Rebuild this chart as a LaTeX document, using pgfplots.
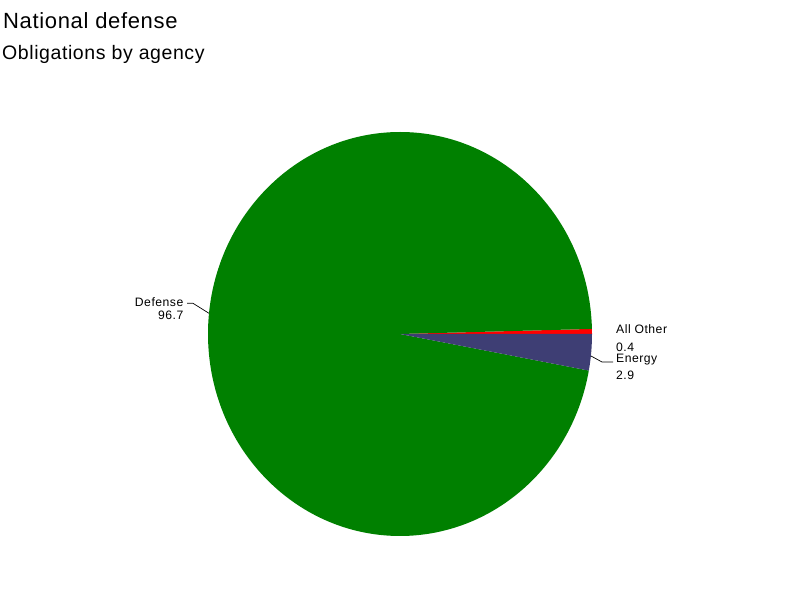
\documentclass[border=0pt]{standalone}
\usepackage{fontspec}
\setmainfont{Liberation Sans}
\newfontfamily\wide[LetterSpace=3]{Liberation Sans}
\newfontfamily\labwide[LetterSpace=4]{Liberation Sans}
\usepackage{pgfplots}
\usepackage{pgfplotstable}
\pgfplotsset{compat=1.18}
\definecolor{defc}{RGB}{0,128,0}
\definecolor{enec}{RGB}{62,62,116}
\definecolor{othc}{RGB}{255,0,0}

% share of obligations, percent; slices run counterclockwise from 0 deg
\pgfplotstableread{
share col
0.4 othc
96.7 defc
2.9 enec
}\piedata

\begin{document}
\begin{tikzpicture}
\begin{axis}[scale only axis, width=800bp, height=600bp,
  xmin=0, xmax=800, ymin=0, ymax=600, hide axis, clip=false]
\path (rel axis cs:0,0) rectangle (rel axis cs:1,1);
\def\acc{0}
\pgfplotsforeachungrouped \i in {0,1,2}{%
  \pgfplotstablegetelem{\i}{share}\of\piedata \let\v\pgfplotsretval
  \pgfplotstablegetelem{\i}{col}\of\piedata \let\c\pgfplotsretval
  \pgfmathsetmacro\a{\acc*3.6}%
  \pgfmathsetmacro\b{(\acc+\v)*3.6}%
  \pgfmathsetmacro\acc{\acc+\v}%
  \edef\doit{\noexpand\fill[\c] (axis cs:400,266) -- (axis cs:{400+192*cos(\a)},{266+202*sin(\a)})
    arc[start angle=\a, end angle=\b, x radius=192bp, y radius=202bp] -- cycle;}%
  \doit
}
% leader lines
\draw[black, line width=0.7bp] (axis cs:187,296.7) -- (axis cs:193,296.7) -- (axis cs:209,286.7);
\draw[black, line width=0.7bp] (axis cs:591,244) -- (axis cs:602,238) -- (axis cs:613,238);
% labels
\tikzset{lab/.style={inner sep=0pt, font=\labwide\fontsize{12.2bp}{14bp}\selectfont}}
\node[lab, anchor=base east] at (axis cs:183.5,293.3) {Defense};
\node[lab, anchor=base east] at (axis cs:183.5,280.5) {96.7};
\node[lab, anchor=base west] at (axis cs:616,266) {All Other};
\node[lab, anchor=base west] at (axis cs:616,248) {0.4};
\node[lab, anchor=base west] at (axis cs:616,237) {Energy};
\node[lab, anchor=base west] at (axis cs:616,220) {2.9};
% titles
\node[inner sep=0pt, anchor=base west, font=\wide\fontsize{22bp}{26bp}\selectfont] at (axis cs:3,571.7) {National defense};
\node[inner sep=0pt, anchor=base west, font=\wide\fontsize{19.5bp}{23bp}\selectfont] at (axis cs:2,540.3) {Obligations by agency};
\end{axis}
\end{tikzpicture}
\end{document}
